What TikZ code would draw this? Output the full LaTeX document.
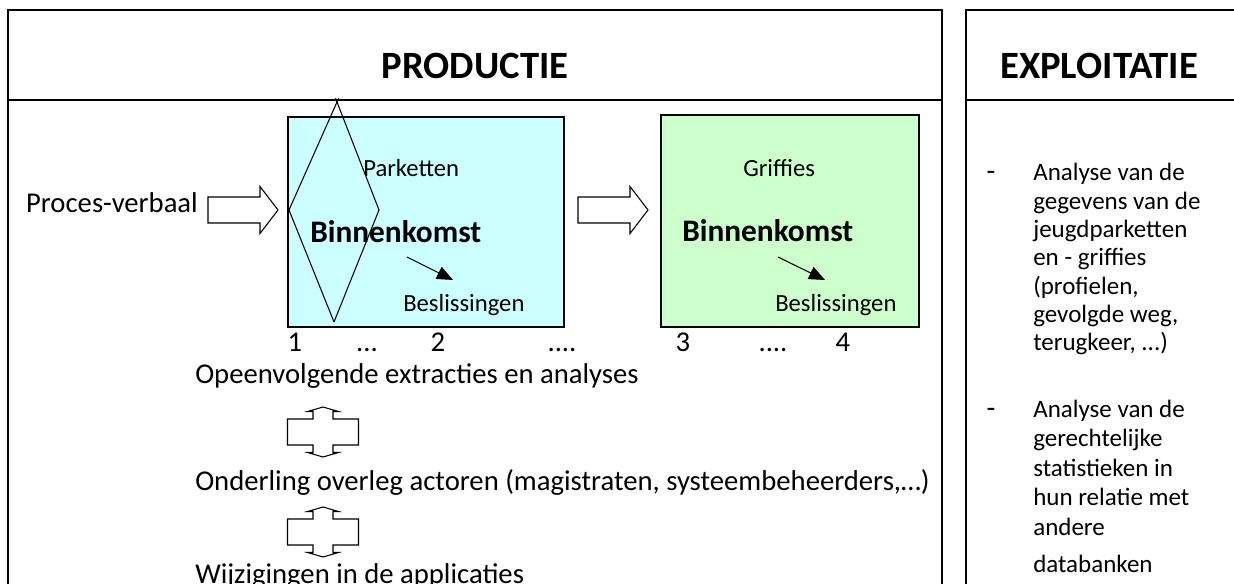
\documentclass[tikz,border=0pt]{standalone}
\usepackage{fontspec}
\setmainfont{Carlito}
\usetikzlibrary{positioning,arrows.meta}
\definecolor{parketblue}{HTML}{CCFFFF}
\definecolor{griffiegreen}{HTML}{CCFFCC}
\newcommand\kolomtekst{\fontsize{18.75}{21.2}\selectfont\lineskiplimit=-100pt\relax}
\newcommand\kolomtekstruim{\fontsize{18.75}{22.1}\selectfont\lineskiplimit=-100pt\relax}

\begin{document}
\begin{tikzpicture}[x=0.75pt,y=-0.75pt,
        every node/.style={inner sep=0pt, font=\fontsize{21.5}{25}\selectfont},
        kop/.style={font=\fontsize{29}{34}\selectfont\bfseries},
        klein/.style={font=\fontsize{18.5}{22}\selectfont},
        vet/.style={font=\fontsize{23.5}{28}\selectfont\bfseries},
        rij/.style={align=left, anchor=base west, font=\kolomtekst},
        kader/.style={draw, line width=1.2pt},
        vak/.style={draw, line width=0.9pt},
        lijn/.style={line width=0.8pt},
        pijltje/.style={lijn, -{Triangle[length=12pt,width=10pt]}},
        fatarrow/.pic={\draw[lijn, fill=white] (0,-13) -- (52,-13) -- (52,-23.5) -- (70,0)
            -- (52,23.5) -- (52,13) -- (0,13) -- cycle;},
        updown/.pic={\draw[lijn, fill=white] (0,-25) -- (15.5,-20.5) -- (10,-20.5) -- (10,-13)
            -- (35.5,-13) -- (35.5,13) -- (10,13) -- (10,20.5) -- (15.5,20.5) -- (0,25)
            -- (-15.5,20.5) -- (-10,20.5) -- (-10,13) -- (-35.5,13) -- (-35.5,-13)
            -- (-10,-13) -- (-10,-20.5) -- (-15.5,-20.5) -- cycle;}
    ]
    \useasboundingbox (0,0) rectangle (1234,584);
    \clip (0,0) rectangle (1234,584);

    % kolommen
    \draw[kader] (8,10) rectangle (942,640);
    \draw[kader] (8,100) -- (942,100);
    \draw[kader] (966,10) rectangle (1280,640);
    \draw[kader] (966,100) -- (1280,100);
    \node[kop] (productie) at (475,66) {PRODUCTIE};
    \node[kop] (exploitatie) at (1099,66) {EXPLOITATIE};

    % parketten en griffies
    \draw[vak, fill=parketblue] (288,117) rectangle (564,327);
    \draw[vak, fill=griffiegreen] (661,115) rectangle (919,327);

    \coordinate (dtop) at (337,102);
    \coordinate (drechts) at (379,210);
    \coordinate (donder) at (334,322);
    \coordinate (dlinks) at (289,210);
    \draw[lijn, shorten <=-3pt, shorten >=-3pt] (dlinks) -- (dtop);
    \draw[lijn, shorten <=-3pt] (dtop) -- (drechts);
    \draw[lijn, shorten <=-3pt] (dlinks) -- (donder);
    \draw[lijn] (donder) -- (drechts);

    \node[anchor=base east] (pv) at (198,213) {Proces-verbaal};
    \pic at (208,210) {fatarrow};
    \pic at (578,210) {fatarrow};

    \node[klein, anchor=base west] (parket) at (363,177) {Parketten};
    \node[vet, anchor=base west] (binnen1) at (310,243) {Binnenkomst};
    \node[klein, anchor=base west] (besl1) at (403,312) {Beslissingen};
    \coordinate (b1a) at (407,257);
    \coordinate (b1b) at (453,280);
    \draw[pijltje] (b1a) -- (b1b);

    \node[klein, anchor=base west] (griffie) at (743,177) {Griffies};
    \node[vet, anchor=base west] (binnen2) at (682,242) {Binnenkomst};
    \node[klein, anchor=base west] (besl2) at (775,312) {Beslissingen};
    \coordinate (b2a) at (778,257);
    \coordinate (b2b) at (825,280);
    \draw[pijltje] (b2a) -- (b2b);

    % extracties
    \node[anchor=base] (n1) at (295,352) {1};
    \node[anchor=base] (p1) at (367,352) {...};
    \node[anchor=base] (n2) at (438,352) {2};
    \node[anchor=base] (p2) at (562,352) {....};
    \node[anchor=base] (n3) at (683,352) {3};
    \node[anchor=base] (p3) at (773,352) {....};
    \node[anchor=base] (n4) at (843,352) {4};

    \node[anchor=base west] (extractie) at (195,383) {Opeenvolgende extracties en analyses};
    \pic at (323,432) {updown};
    \node[anchor=base west] (overleg) at (195,490) {Onderling overleg actoren (magistraten, systeembeheerders,…)};
    \pic at (323,532) {updown};
    \node[anchor=base west] (wijziging) at (195,583) {Wijzigingen in de applicaties};

    % exploitatie
    \node[anchor=base] (streep1) at (991,181) {-};
    \node[rij] (analyse1) at (1033,350.6)
        {Analyse van de\\gegevens van de\\jeugdparketten\\en - griffies\\(profielen,\\gevolgde weg,\\terugkeer, ...)};
    \node[anchor=base] (streep2) at (991,417) {-};
    \node[rij, font=\kolomtekstruim] (analyse2) at (1033,572)
        {Analyse van de\\gerechtelijke\\statistieken in\\hun relatie met\\andere\\[5.5pt]databanken};
\end{tikzpicture}
\end{document}
